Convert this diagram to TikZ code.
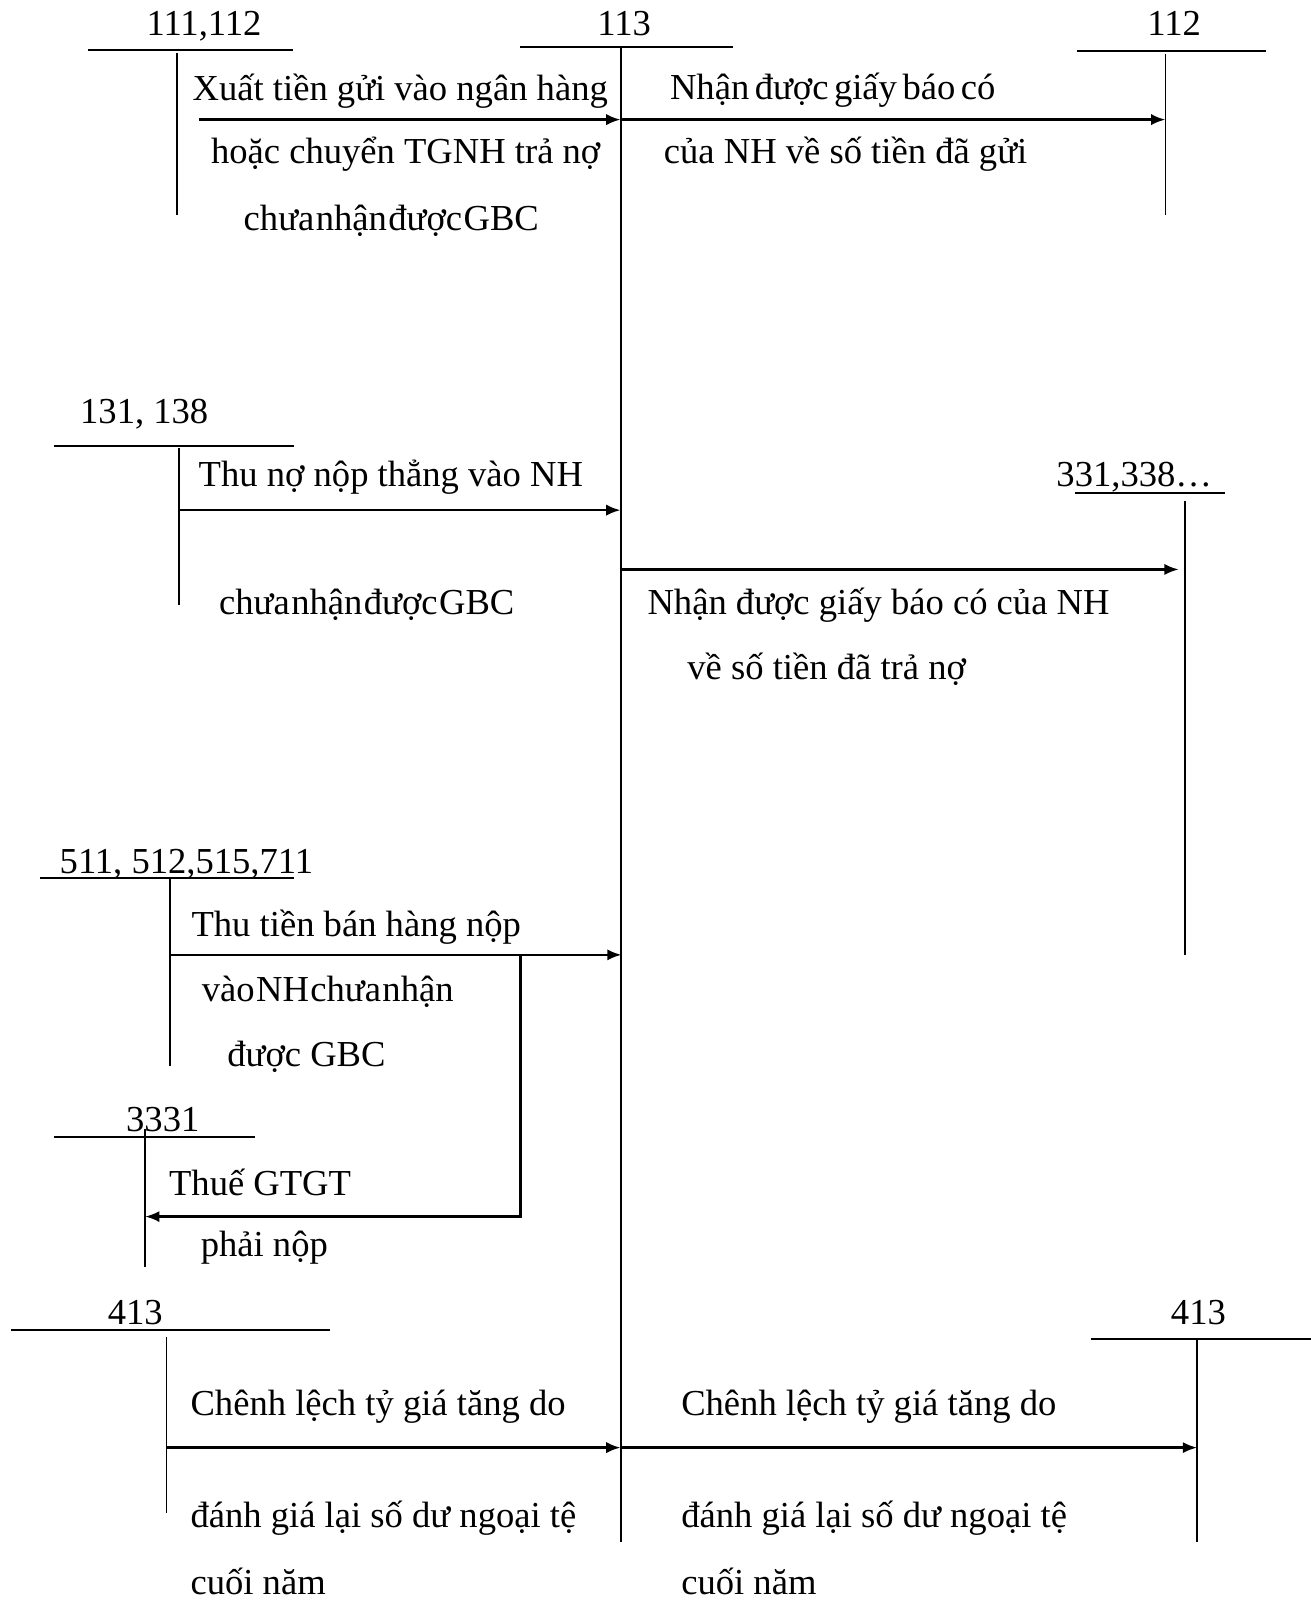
\documentclass[tikz,border=0pt]{standalone}
\usepackage{fontspec}
\setmainfont{Liberation Serif}
\usetikzlibrary{arrows.meta}
\tikzset{
  txt/.style={anchor=base west, inner sep=0pt, font=\fontsize{17.9}{20}\selectfont},
  tight/.style={txt, execute at begin node={\spaceskip=#1\relax}},
  tight/.default=0.04em,
  acct/.style={line width=1pt},
  leg/.style={line width=0.8pt},
  flow/.style={-{Latex[length=7pt,width=5.5pt]}, line width=1.2pt}
}
\begin{document}
\begin{tikzpicture}[x=0.5pt,y=0.5pt]
\useasboundingbox (0,0) rectangle (1282,-1568);
\node[txt] (t111) at (143,-35) {111,112};
\draw[acct] (86,-49) -- (287,-49);
\draw[leg] (173,-52) -- (173,-210);
\node[txt] (t113) at (584,-35) {113};
\draw[acct] (509,-46) -- (717,-46);
\draw[acct] (607,-46) -- (607,-1508);
\node[txt] (t112) at (1122,-35) {112};
\draw[acct] (1053,-50) -- (1238,-50);
\draw[leg] (1140,-53) -- (1140,-210);
\coordinate (s1) at (195,-117);
\coordinate (m1) at (607,-117);
\coordinate (e1) at (1140,-117);
\draw[flow] (s1) -- (m1);
\draw[flow] (m1) -- (e1);
\node[txt] (d1a) at (188,-98) {Xuất tiền gửi vào ngân hàng};
\node[txt] (d1b) at (206,-160) {hoặc chuyển TGNH trả nợ};
\node[tight] (d1c) at (238,-225) {chưa nhận được GBC};
\node[tight=0.15em] (d2a) at (655,-97) {Nhận được giấy báo có};
\node[txt] (d2b) at (649,-160) {của NH về số tiền đã gửi};
\node[txt] (t131) at (78,-414) {131, 138};
\draw[acct] (53,-436) -- (288,-436);
\draw[leg] (175,-438) -- (175,-592);
\node[txt] (t331) at (1033,-476) {331,338…};
\draw[acct] (1052,-482) -- (1198,-482);
\draw[leg] (1159,-490) -- (1159,-934);
\coordinate (s2) at (175,-499);
\coordinate (m2) at (607,-499);
\coordinate (m3) at (607,-557);
\coordinate (e3) at (1153,-557);
\draw[flow] (s2) -- (m2);
\draw[flow] (m3) -- (e3);
\node[txt] (d3a) at (194,-476) {Thu nợ nộp thẳng vào NH};
\node[tight] (d3b) at (214,-601) {chưa nhận được GBC};
\node[txt] (d4a) at (633,-601) {Nhận được giấy báo có của NH};
\node[txt] (d4b) at (672,-665) {về số tiền đã trả nợ};
\node[txt] (t511) at (58,-854) {511, 512,515,711};
\draw[acct] (39,-859) -- (288,-859);
\draw[leg] (166,-859) -- (166,-1043);
\coordinate (s5) at (166,-934);
\coordinate (m5) at (608,-934);
\coordinate (br) at (509,-934);
\coordinate (e6) at (142,-1190);
\draw[flow] (s5) -- (m5);
\draw[flow] (br) |- (e6);
\node[txt] (d5a) at (187,-916) {Thu tiền bán hàng nộp};
\node[tight] (d5b) at (197,-980) {vào NH chưa nhận};
\node[txt] (d5c) at (222,-1043) {được GBC};
\node[txt] (t3331) at (123,-1107) {3331};
\draw[acct] (53,-1112) -- (249,-1112);
\draw[leg] (142,-1104) -- (142,-1239);
\node[txt] (d6a) at (165,-1169) {Thuế GTGT};
\node[txt] (d6b) at (196,-1229) {phải nộp};
\node[txt] (t413a) at (105,-1296) {413};
\draw[acct] (11,-1301) -- (323,-1301);
\draw[leg] (163,-1308) -- (163,-1480);
\node[txt] (t413b) at (1145,-1296) {413};
\draw[acct] (1067,-1310) -- (1282,-1310);
\draw[leg] (1171,-1310) -- (1171,-1508);
\coordinate (s7) at (163,-1416);
\coordinate (m7) at (607,-1416);
\coordinate (e7) at (1171,-1416);
\draw[flow] (s7) -- (m7);
\draw[flow] (m7) -- (e7);
\node[txt] (d7a) at (186,-1385) {Chênh lệch tỷ giá tăng do};
\node[txt] (d7b) at (186,-1494) {đánh giá lại số dư ngoại tệ};
\node[txt] (d7c) at (186,-1560) {cuối năm};
\node[txt] (d8a) at (666,-1385) {Chênh lệch tỷ giá tăng do};
\node[txt] (d8b) at (666,-1494) {đánh giá lại số dư ngoại tệ};
\node[txt] (d8c) at (666,-1560) {cuối năm};
\end{tikzpicture}
\end{document}
